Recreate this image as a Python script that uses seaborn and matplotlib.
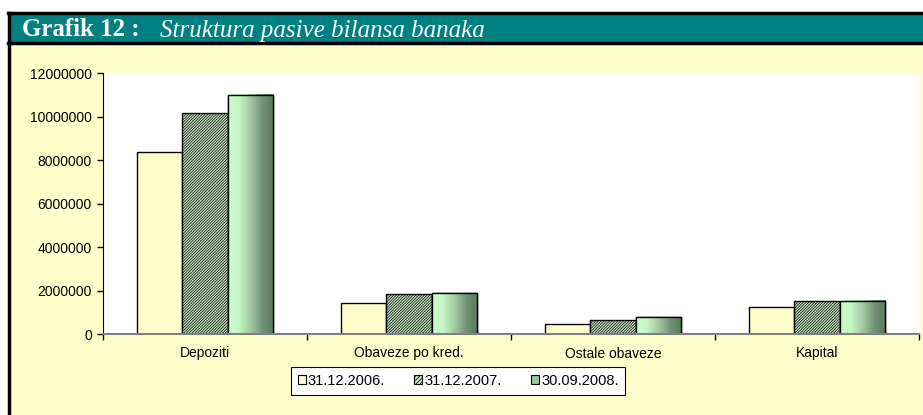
import numpy as np
import pandas as pd
import seaborn as sns
import matplotlib.pyplot as plt
from matplotlib.patches import Rectangle, Patch
from matplotlib.lines import Line2D
from matplotlib.colors import LinearSegmentedColormap

# podaci ocitani sa grafika
kategorije = ['Depoziti', 'Obaveze po kred.', 'Ostale obaveze', 'Kapital']
periodi = ['31.12.2006.', '31.12.2007.', '30.09.2008.']
v_2006 = [8380000, 1410000, 460000, 1220000]
v_2007 = [10170000, 1840000, 630000, 1500000]
v_2008 = [10990000, 1880000, 780000, 1520000]
y_ticks = [0, 2000000, 4000000, 6000000, 8000000, 10000000, 12000000]

df = pd.DataFrame({
    'kategorija': kategorije * 3,
    'period': [periodi[0]] * 4 + [periodi[1]] * 4 + [periodi[2]] * 4,
    'iznos': v_2006 + v_2007 + v_2008,
})

yellow = '#FFFFCC'
hatch_face = '#C4E8BC'
grad_cmap = LinearSegmentedColormap.from_list(
    'zel', ['#CCFFCC', '#C4F4C4', '#A2C8A2', '#73937A', '#5C785C'])

plt.rcParams['hatch.linewidth'] = 0.5
plt.rcParams['hatch.color'] = '#566B56'

fig = plt.figure(figsize=(9.23, 4.15), dpi=100, facecolor='white')
W, H = 923, 415

def fx(px):
    return px / W

def fy(py):
    return 1 - py / H

# pozadina i naslovna traka
fig.patches.append(Rectangle((fx(9), 0), 1, fy(43), transform=fig.transFigure,
                             facecolor=yellow, edgecolor='none', zorder=-2))
fig.patches.append(Rectangle((fx(9), fy(43)), 1, fy(13) - fy(43), transform=fig.transFigure,
                             facecolor='#008080', edgecolor='none', zorder=-2))
for yy in (13, 43):
    fig.lines.append(Line2D([fx(8), 1], [fy(yy), fy(yy)], transform=fig.transFigure,
                            color='black', lw=2.5, zorder=-1))
fig.lines.append(Line2D([fx(9), fx(9)], [0, fy(13)], transform=fig.transFigure,
                        color='black', lw=2.5, zorder=-1))

fig.text(fx(22), fy(36.5), 'Grafik 12 :', family='Liberation Serif', weight='bold',
         fontsize=18, color='white', va='baseline')
fig.text(fx(160), fy(36.5), 'Struktura pasive bilansa banaka', family='Liberation Serif',
         style='italic', fontsize=18, color='white', va='baseline')

ax = fig.add_axes([fx(103), fy(334), fx(919) - fx(103), fy(73) - fy(334)])
ax.set_facecolor('white')

sns.barplot(data=df, x='kategorija', y='iznos', hue='period', ax=ax,
            palette=[yellow, hatch_face, '#CCFFCC'], saturation=1, width=0.67,
            edgecolor='black', linewidth=1, legend=False, errorbar=None)

for bar in ax.containers[1]:
    bar.set_hatch('////////////')

for bar in ax.containers[2]:
    x0, y0 = bar.get_x(), bar.get_y()
    w, h = bar.get_width(), bar.get_height()
    grad = np.linspace(0, 1, 64).reshape(1, -1)
    ax.imshow(grad, cmap=grad_cmap, aspect='auto', extent=[x0, x0 + w, y0, y0 + h],
              zorder=bar.get_zorder() + 0.1, interpolation='bilinear')
    ax.add_patch(Rectangle((x0, y0), w, h, facecolor='none', edgecolor='black',
                           lw=1, zorder=bar.get_zorder() + 0.2))

ax.set_xlim(-0.5, 3.5)
ax.set_ylim(0, 12000000)
ax.set_yticks(y_ticks)
ax.set_yticklabels([str(v) for v in y_ticks])
ax.set_xticks(range(len(kategorije)))
ax.set_xticklabels(kategorije)
ax.set_xticks([-0.5, 0.5, 1.5, 2.5, 3.5], minor=True)
ax.tick_params(axis='x', which='major', length=0, pad=9, labelsize=10)
ax.tick_params(axis='x', which='minor', length=4, width=1, direction='out', color='black')
ax.tick_params(axis='y', length=4, width=1, direction='out', labelsize=10, pad=4)
for lbl in ax.get_xticklabels() + ax.get_yticklabels():
    lbl.set_family('Liberation Sans')
ax.set_xlabel('')
ax.set_ylabel('')
for s in ('top', 'right'):
    ax.spines[s].set_visible(False)
ax.spines['left'].set_color('black')
ax.spines['bottom'].set_color('#808080')
ax.spines['bottom'].set_linewidth(1.5)

handles = [
    Patch(facecolor=yellow, edgecolor='black', lw=0.8),
    Patch(facecolor=hatch_face, edgecolor='black', hatch='////////', lw=0.8),
    Patch(facecolor='#9CC79C', edgecolor='black', lw=0.8),
]
leg = fig.legend(handles, periodi, loc='center', ncol=3,
                 bbox_to_anchor=(fx(458), fy(381)), bbox_transform=fig.transFigure,
                 fancybox=False, framealpha=1, edgecolor='black', facecolor='white',
                 handlelength=0.55, handleheight=0.55, handletextpad=0.15,
                 columnspacing=2.0, borderpad=0.45,
                 prop={'family': 'Liberation Sans', 'size': 10.5})
leg.get_frame().set_linewidth(0.8)

fig.savefig('out.png', dpi=100, facecolor=fig.get_facecolor())
